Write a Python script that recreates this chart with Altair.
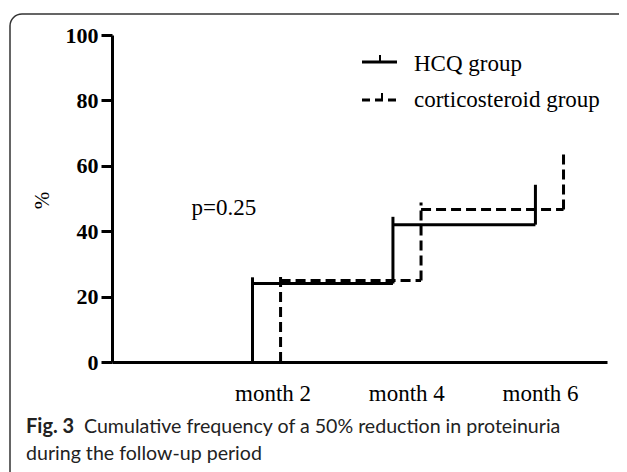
import altair as alt
import pandas as pd

# ---------------- data ----------------
groups = ["HCQ group", "corticosteroid group"]

# event times (months) of each step, level before the step, top of the vertical stroke
hcq_times = [1.70, 3.80, 5.93]
hcq_levels = [0.0, 24.0, 42.0]
hcq_tops = [25.9, 44.4, 54.2]

cs_times = [2.12, 4.22, 6.35]
cs_levels = [0.0, 24.9, 46.6]
cs_tops = [27.0, 48.8, 64.0]

month_ticks = [2, 4, 6]
y_ticks = [0, 20, 40, 60, 80, 100]
p_text = ["p=0.25"]
p_pos = [0.79, 45.0]

caption_bold = "Fig. 3"
caption_line1 = "Cumulative frequency of a 50% reduction in proteinuria"
caption_line2 = "during the follow-up period"

SERIF = "Liberation Serif"
SANS = "Lato"


def segments(name, times, levels, tops):
    rows = []
    for i, t in enumerate(times):
        rows.append(dict(group=name, x=t, x2=t, y=levels[i], y2=tops[i]))
        if i + 1 < len(times):
            rows.append(dict(group=name, x=t, x2=times[i + 1],
                             y=levels[i + 1], y2=levels[i + 1]))
    return pd.DataFrame(rows)


hcq_df = segments(groups[0], hcq_times, hcq_levels, hcq_tops)
cs_df = segments(groups[1], cs_times, cs_levels, cs_tops)

xscale = alt.Scale(domain=[-0.4, 7.0], nice=False, zero=False)
yscale = alt.Scale(domain=[0, 100], nice=False)

xaxis = alt.Axis(values=month_ticks, ticks=False, grid=False,
                 labelExpr="'month ' + datum.value", title=None,
                 domainColor="black", domainWidth=3,
                 labelFont=SERIF, labelFontSize=23, labelColor="black",
                 labelPadding=20, labelFlush=False)
yaxis = alt.Axis(values=y_ticks, grid=False, title="%",
                 domainColor="black", domainWidth=3,
                 tickColor="black", tickWidth=3, tickSize=11,
                 labelFont=SERIF, labelFontSize=22, labelFontWeight="bold",
                 labelColor="black", labelPadding=3,
                 titleFont=SERIF, titleFontSize=21, titleFontWeight="normal",
                 titleColor="black", titleAngle=270, titleX=-70, titleY=165,
                 titleAlign="center", titleBaseline="middle")

one = pd.DataFrame({"a": [0]})

hcq = alt.Chart(hcq_df).mark_rule(color="black", strokeWidth=3).encode(
    x=alt.X("x:Q", scale=xscale, axis=xaxis),
    x2="x2:Q",
    y=alt.Y("y:Q", scale=yscale, axis=yaxis),
    y2="y2:Q",
)
cs = alt.Chart(cs_df).mark_rule(color="black", strokeWidth=3,
                                strokeDash=[10, 5]).encode(
    x=alt.X("x:Q"), x2="x2:Q", y=alt.Y("y:Q"), y2="y2:Q",
)

ptxt = alt.Chart(pd.DataFrame({"x": [p_pos[0]], "y": [p_pos[1]], "t": p_text})).mark_text(
    align="left", baseline="alphabetic", font=SERIF, fontSize=23, color="black"
).encode(x="x:Q", y="y:Q", text="t:N")

# legend (drawn manually)
leg_hcq_line = alt.Chart(one).mark_rule(color="black", strokeWidth=3).encode(
    x=alt.value(250), x2=alt.value(285), y=alt.value(27))
leg_hcq_tick = alt.Chart(one).mark_rule(color="black", strokeWidth=2).encode(
    x=alt.value(268), y=alt.value(20), y2=alt.value(27))
leg_cs_line = alt.Chart(one).mark_rule(color="black", strokeWidth=3,
                                       strokeDash=[8, 5]).encode(
    x=alt.value(250), x2=alt.value(285), y=alt.value(65))
leg_cs_tick = alt.Chart(one).mark_rule(color="black", strokeWidth=2).encode(
    x=alt.value(270), y=alt.value(58), y2=alt.value(65))
leg_text = alt.Chart(pd.DataFrame({"g": groups, "yy": [36, 72]})).mark_text(
    align="left", baseline="alphabetic", font=SERIF, fontSize=23, color="black"
).encode(x=alt.value(302), y=alt.Y("yy:Q", scale=None), text="g:N")

# caption
cap_bold = alt.Chart(one).mark_text(
    align="left", baseline="alphabetic", font=SANS, fontSize=20,
    fontWeight="bold", color="#222").encode(
    x=alt.value(-86), y=alt.value(398), text=alt.value(caption_bold))
cap1 = alt.Chart(one).mark_text(
    align="left", baseline="alphabetic", font=SANS, fontSize=19.6,
    color="#222").encode(
    x=alt.value(-28), y=alt.value(398), text=alt.value(caption_line1))
cap2 = alt.Chart(one).mark_text(
    align="left", baseline="alphabetic", font=SANS, fontSize=19.6,
    color="#222").encode(
    x=alt.value(-86), y=alt.value(425), text=alt.value(caption_line2))

# rounded frame
frame = alt.Chart(one).mark_rect(fillOpacity=0, stroke="#333", strokeWidth=1.5,
                                 cornerRadius=12).encode(
    x=alt.value(-102), x2=alt.value(540), y=alt.value(-21), y2=alt.value(460))

chart = alt.layer(
    frame, hcq, cs, ptxt, leg_hcq_line, leg_hcq_tick, leg_cs_line, leg_cs_tick,
    leg_text, cap_bold, cap1, cap2
).properties(
    width=495, height=327,
    padding={"left": 104, "top": 27, "right": 12, "bottom": 110},
    autosize=alt.AutoSizeParams(type="none"),
).configure_view(strokeWidth=0)

chart.save("out.html", embed_options={"renderer": "svg", "actions": False})
